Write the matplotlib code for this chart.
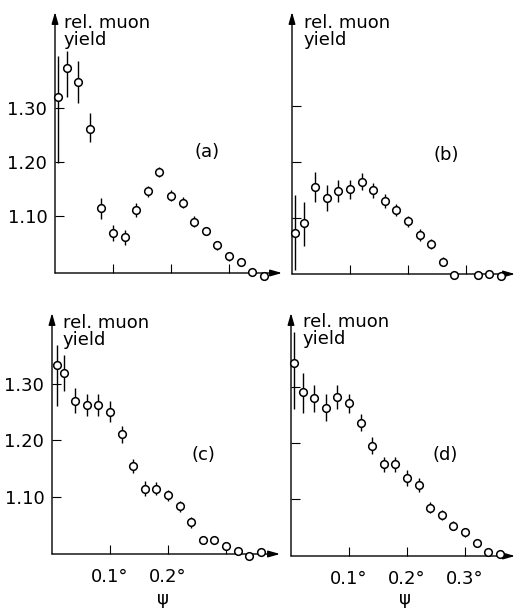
import matplotlib
matplotlib.use("Agg")
import matplotlib.pyplot as plt

# ---- data (psi in degrees, relative muon yield) ----
psi_a = [0.006, 0.02, 0.04, 0.06, 0.08, 0.10, 0.12, 0.14, 0.16, 0.18,
         0.20, 0.22, 0.24, 0.26, 0.28, 0.30, 0.32, 0.34, 0.36]
yield_a = [1.320, 1.375, 1.348, 1.262, 1.115, 1.069, 1.061, 1.112, 1.146, 1.182,
           1.138, 1.125, 1.090, 1.073, 1.046, 1.026, 1.016, 0.996, 0.990]
lo_a = [0.122, 0.055, 0.038, 0.025, 0.020, 0.015, 0.014, 0.013, 0.010, 0.010,
        0.010, 0.010, 0.010, 0.008, 0.008, 0.008, 0.006, 0.004, 0.004]
hi_a = [0.076, 0.031, 0.039, 0.030, 0.018, 0.015, 0.014, 0.013, 0.010, 0.010,
        0.010, 0.010, 0.010, 0.008, 0.008, 0.008, 0.006, 0.004, 0.004]

psi_b = [0.006, 0.02, 0.04, 0.06, 0.08, 0.10, 0.12, 0.14, 0.16, 0.18,
         0.20, 0.22, 0.24, 0.26, 0.28, 0.32, 0.34, 0.36]
yield_b = [1.073, 1.091, 1.156, 1.135, 1.148, 1.151, 1.165, 1.149, 1.130, 1.114,
           1.094, 1.069, 1.053, 1.021, 0.998, 0.998, 0.999, 0.996]
lo_b = [0.066, 0.041, 0.028, 0.022, 0.020, 0.017, 0.015, 0.013, 0.012, 0.010,
        0.010, 0.010, 0.009, 0.008, 0.004, 0.004, 0.004, 0.004]
hi_b = [0.067, 0.037, 0.026, 0.024, 0.019, 0.016, 0.015, 0.013, 0.012, 0.010,
        0.010, 0.010, 0.009, 0.008, 0.004, 0.004, 0.004, 0.004]

psi_c = [0.008, 0.02, 0.04, 0.06, 0.08, 0.10, 0.12, 0.14, 0.16, 0.18,
         0.20, 0.22, 0.24, 0.26, 0.28, 0.30, 0.32, 0.34, 0.36]
yield_c = [1.334, 1.319, 1.270, 1.263, 1.263, 1.251, 1.211, 1.154, 1.114, 1.114,
           1.102, 1.083, 1.054, 1.022, 1.022, 1.012, 1.003, 0.995, 1.001]
lo_c = [0.074, 0.031, 0.022, 0.019, 0.019, 0.018, 0.015, 0.013, 0.013, 0.012,
        0.010, 0.010, 0.010, 0.007, 0.006, 0.006, 0.004, 0.004, 0.004]
hi_c = [0.036, 0.033, 0.022, 0.019, 0.019, 0.018, 0.015, 0.013, 0.013, 0.012,
        0.010, 0.010, 0.010, 0.007, 0.006, 0.006, 0.004, 0.004, 0.004]

psi_d = [0.006, 0.02, 0.04, 0.06, 0.08, 0.10, 0.12, 0.14, 0.16, 0.18,
         0.20, 0.22, 0.24, 0.26, 0.28, 0.30, 0.32, 0.34, 0.36]
yield_d = [1.343, 1.291, 1.280, 1.263, 1.282, 1.272, 1.236, 1.195, 1.162, 1.162,
           1.138, 1.125, 1.085, 1.072, 1.053, 1.041, 1.023, 1.007, 1.003]
lo_d = [0.082, 0.037, 0.025, 0.023, 0.021, 0.019, 0.015, 0.015, 0.014, 0.013,
        0.014, 0.012, 0.010, 0.009, 0.008, 0.008, 0.007, 0.004, 0.004]
hi_d = [0.055, 0.034, 0.023, 0.024, 0.021, 0.015, 0.015, 0.015, 0.014, 0.013,
        0.014, 0.012, 0.010, 0.009, 0.008, 0.008, 0.007, 0.004, 0.004]

panel_names = ["(a)", "(b)", "(c)", "(d)"]
y_ticks = [1.10, 1.20, 1.30]
y_tick_labels = ["1.10", "1.20", "1.30"]
x_ticks = [0.1, 0.2, 0.3]

W, H = 517, 613
fig = plt.figure(figsize=(W / 100, H / 100), dpi=100)
plt.rcParams["font.family"] = ["DejaVu Sans"]
FS = 13

# panel frames in pixels: left axis x, bottom axis y, arrow end x, arrow top y,
# y value at the x axis, pixels per unit of yield
frames = [
    (55, 273, 282, 12, 0.995, 540),
    (292, 274, 515, 12, 0.999, 557),
    (52, 554, 280, 313, 0.998, 563),
    (291, 556, 515, 313, 0.999, 562),
]
PX_PER_DEG = 580

series = [
    (psi_a, yield_a, lo_a, hi_a),
    (psi_b, yield_b, lo_b, hi_b),
    (psi_c, yield_c, lo_c, hi_c),
    (psi_d, yield_d, lo_d, hi_d),
]

# text placements (pixels): panel tag centre, axis title top-left
label_pos = [(207, 152), (446, 155), (203, 455), (445, 455)]
title_pos = [(64, 14), (304, 14), (63, 314), (303, 313)]

for i, ((x0, y0, x1, y1, ybase, pxu), (xs, ys, lo, hi)) in enumerate(zip(frames, series)):
    ax = fig.add_axes([x0 / W, 1 - y0 / H, (x1 - x0) / W, (y0 - y1) / H])
    ax.set_xlim(0, (x1 - x0) / PX_PER_DEG)
    ax.set_ylim(ybase, ybase + (y0 - y1) / pxu)
    ax.patch.set_visible(False)
    for s in ax.spines.values():
        s.set_visible(False)

    # axes with arrow heads
    arrow = dict(arrowstyle="-|>,head_length=0.7,head_width=0.2", lw=1.0,
                 color="black", shrinkA=0, shrinkB=0, mutation_scale=10)
    ax.annotate("", xy=(1, 0), xytext=(0, 0), xycoords="axes fraction",
                arrowprops=arrow, annotation_clip=False)
    ax.annotate("", xy=(0, 1), xytext=(0, 0), xycoords="axes fraction",
                arrowprops=arrow, annotation_clip=False)

    ax.errorbar(xs, ys, yerr=[lo, hi], fmt="o", ms=5.5, mfc="white", mec="black",
                mew=1.1, ecolor="black", elinewidth=1.0, capsize=0, clip_on=False,
                zorder=3)

    ax.set_yticks(y_ticks)
    ax.set_xticks(x_ticks)
    ax.tick_params(direction="in", length=6.5, width=0.8, labelsize=FS,
                   top=False, right=False)
    ax.tick_params(axis="y", pad=5.5)
    ax.tick_params(axis="x", pad=10)
    if i in (0, 2):
        ax.set_yticklabels(y_tick_labels)
    else:
        ax.set_yticklabels([])
    if i == 2:
        ax.set_xticklabels(["0.1°", "0.2°", ""])
    elif i == 3:
        ax.set_xticklabels(["0.1°", "0.2°", "0.3°"])
    else:
        ax.set_xticklabels([])

    lx, ly = label_pos[i]
    fig.text(lx / W, 1 - ly / H, panel_names[i], fontsize=FS, ha="center", va="center")
    tx, ty = title_pos[i]
    fig.text(tx / W, 1 - ty / H, "rel. muon\nyield", fontsize=FS, ha="left",
             va="top", linespacing=0.95)

# psi labels under the lower panels
fig.text(163 / W, 1 - 599 / H, "ψ", fontsize=FS, ha="center", va="center")
fig.text(405 / W, 1 - 599 / H, "ψ", fontsize=FS, ha="center", va="center")

fig.savefig("out.png", dpi=100)
